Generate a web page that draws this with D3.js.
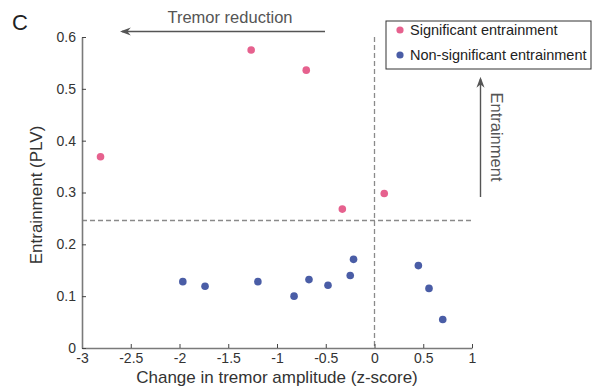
<!DOCTYPE html>
<html><head><meta charset="utf-8">
<script src="https://cdn.jsdelivr.net/npm/d3@7"></script>
<style>body{margin:0;background:#fff}svg{display:block;font-family:"Liberation Sans",Arial,sans-serif}</style>
</head><body><svg id="c" width="600" height="387"></svg>
<script>
const sigX = [-2.81, -1.265, -0.70, -0.33, 0.10];
const sigY = [0.369, 0.575, 0.536, 0.268, 0.298];
const nonX = [-1.966, -1.738, -1.196, -0.825, -0.672, -0.477, -0.249, -0.215, 0.45, 0.559, 0.70];
const nonY = [0.128, 0.119, 0.128, 0.100, 0.132, 0.121, 0.140, 0.171, 0.159, 0.115, 0.055];
const xTicks = [-3, -2.5, -2, -1.5, -1, -0.5, 0, 0.5, 1];
const yTicks = [0, 0.1, 0.2, 0.3, 0.4, 0.5, 0.6];
const threshold = 0.246;
const legendLabels = ["Significant entrainment", "Non-significant entrainment"];
const colors = ["#e6618e", "#4a5da6"];

const svg = d3.select("#c");
const x = d3.scaleLinear().domain([-3, 1]).range([82, 472]);
const y = d3.scaleLinear().domain([0, 0.6]).range([348, 37]);
const axisCol = "#7a7a7a", textCol = "#333";

// dashed reference lines
svg.append("line").attr("x1", x(-3)).attr("x2", x(1)).attr("y1", y(threshold)).attr("y2", y(threshold))
  .attr("stroke", "#8a8a8a").attr("stroke-width", 1.3).attr("stroke-dasharray", "5,3");
svg.append("line").attr("x1", x(0)).attr("x2", x(0)).attr("y1", y(0.6)).attr("y2", y(0))
  .attr("stroke", "#8a8a8a").attr("stroke-width", 1.3).attr("stroke-dasharray", "5,3");

// axes
const fmt = d => String(d);
const xa = svg.append("g").attr("transform", `translate(0,${y(0)})`)
  .call(d3.axisBottom(x).tickValues(xTicks).tickSizeInner(-4).tickSizeOuter(0).tickPadding(7).tickFormat(fmt));
const ya = svg.append("g").attr("transform", `translate(${x(-3)},0)`)
  .call(d3.axisLeft(y).tickValues(yTicks).tickSizeInner(-4).tickSizeOuter(0).tickPadding(6).tickFormat(fmt));
[xa, ya].forEach(g => {
  g.select(".domain").attr("stroke", axisCol).attr("stroke-width", 1.6);
  g.selectAll(".tick line").attr("stroke", "#444").attr("stroke-width", 1);
  g.selectAll(".tick text").attr("fill", textCol).style("font-size", "14px");
});
xa.selectAll(".tick text").attr("dy", "0.6em");

// points
svg.append("g").selectAll("circle").data(sigX.map((v, i) => [v, sigY[i]])).join("circle")
  .attr("cx", d => x(d[0])).attr("cy", d => y(d[1])).attr("r", 3.8).attr("fill", colors[0]);
svg.append("g").selectAll("circle").data(nonX.map((v, i) => [v, nonY[i]])).join("circle")
  .attr("cx", d => x(d[0])).attr("cy", d => y(d[1])).attr("r", 3.8).attr("fill", colors[1]);

// axis labels
svg.append("text").attr("x", 277).attr("y", 383).attr("text-anchor", "middle").attr("fill", textCol)
  .style("font-size", "17px").text("Change in tremor amplitude (z-score)");
svg.append("text").attr("transform", "translate(42,195) rotate(-90)").attr("text-anchor", "middle").attr("fill", textCol)
  .style("font-size", "17px").text("Entrainment (PLV)");

// panel letter
svg.append("text").attr("x", 12).attr("y", 30).attr("fill", "#222").style("font-size", "22px").text("C");

// arrows
const defs = svg.append("defs");
defs.append("marker").attr("id", "ah").attr("viewBox", "0 0 10 10").attr("refX", 8).attr("refY", 5)
  .attr("markerWidth", 11).attr("markerHeight", 11).attr("markerUnits", "userSpaceOnUse").attr("orient", "auto")
  .append("path").attr("d", "M10,5 L0,1.3 L3,5 L0,8.7 Z").attr("fill", "#555");
svg.append("line").attr("x1", 325).attr("x2", 122).attr("y1", 31.5).attr("y2", 31.5)
  .attr("stroke", "#555").attr("stroke-width", 1.4).attr("marker-end", "url(#ah)");
svg.append("text").attr("x", 230).attr("y", 23).attr("text-anchor", "middle").attr("fill", "#555")
  .style("font-size", "16.5px").text("Tremor reduction");
svg.append("line").attr("x1", 480.5).attr("x2", 480.5).attr("y1", 197).attr("y2", 79)
  .attr("stroke", "#555").attr("stroke-width", 1.4).attr("marker-end", "url(#ah)");
svg.append("text").attr("transform", "translate(491,137) rotate(90)").attr("text-anchor", "middle").attr("fill", "#555")
  .style("font-size", "16.5px").text("Entrainment");

// legend
const lg = svg.append("g");
lg.append("rect").attr("x", 386).attr("y", 21).attr("width", 205).attr("height", 48)
  .attr("fill", "#fff").attr("stroke", "#333").attr("stroke-width", 1);
legendLabels.forEach((t, i) => {
  lg.append("circle").attr("cx", 400).attr("cy", 30 + i * 25).attr("r", 3.6).attr("fill", colors[i]);
  lg.append("text").attr("x", 410).attr("y", 35 + i * 25).attr("fill", "#222").style("font-size", "14.5px").text(t);
});
</script></body></html>
